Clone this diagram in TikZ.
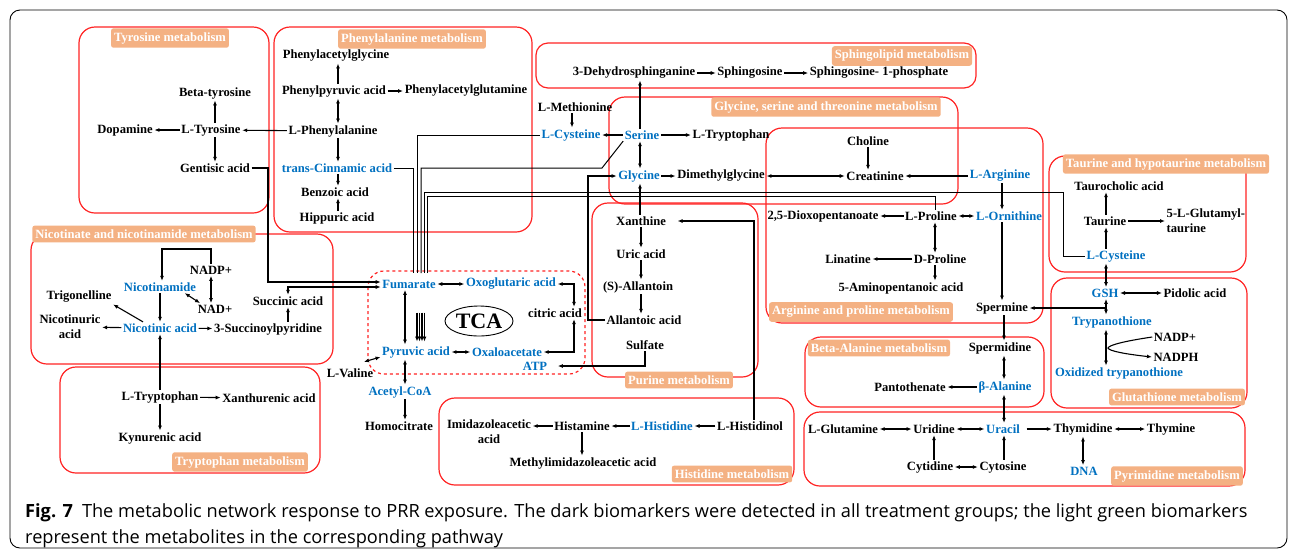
\documentclass[tikz,border=0pt]{standalone}
\usepackage{fontspec}
\setmainfont{Liberation Serif}
\setsansfont{Open Sans}
\usetikzlibrary{arrows.meta,shapes.geometric}
\definecolor{keyblue}{RGB}{0,112,192}
\definecolor{boxred}{RGB}{255,35,35}
\definecolor{tagorange}{RGB}{244,177,131}
\tikzset{
  met/.style={font=\fontsize{12.6}{15}\selectfont\bfseries, inner sep=1.5pt}, % metabolites
  hit/.style={met, text=keyblue}, % blue metabolites
  tag/.style={fill=tagorange, text=white, rounded corners=2.5pt, inner xsep=3pt, inner ysep=4pt,
    font=\fontsize{12.6}{15}\selectfont\bfseries}, % pathway labels
  pbox/.style={draw=boxred, line width=1.2pt, rounded corners=16pt}, % pathway frames
  pf/.style={line width=1.1pt, -{Latex[length=5pt,width=4pt]}}, % arrows
  dpf/.style={line width=1.1pt, {Latex[length=5pt,width=4pt]}-{Latex[length=5pt,width=4pt]}},
  wire/.style={line width=1pt}
}
\begin{document}
\begin{tikzpicture}[x=1pt, y=-1pt]
\useasboundingbox (0,0) rectangle (1295,555);
\draw[line width=0.9pt, rounded corners=10pt] (10,10) rectangle (1287,548);

% pathway frames
\draw[pbox] (79,27) rectangle (269,213);
\draw[pbox] (274,27) rectangle (532,232);
\draw[pbox, rounded corners=12pt] (536,43) rectangle (976,88);
\draw[pbox] (609,97) rectangle (958,204);
\draw[pbox] (766,128) rectangle (1043,323);
\draw[pbox] (1049,156) rectangle (1246,272);
\draw[pbox] (1051,278) rectangle (1247,408);
\draw[pbox] (31,234) rectangle (333,364);
\draw[pbox] (60,367) rectangle (320,473);
\draw[pbox, dashed] (368,271) rectangle (585,374);
\draw[pbox] (592,203) rectangle (758,377);
\draw[pbox] (439,398) rectangle (794,485);
\draw[pbox] (805,337) rectangle (1044,407);
\draw[pbox] (804,412) rectangle (1245,486);

% pathway labels
\node[tag] (tyrtag) at (170,38) {Tyrosine metabolism};
\node[tag] (phetag) at (412,39) {Phenylalanine metabolism};
\node[tag] (sphtag) at (902,56) {Sphingolipid metabolism};
\node[tag] (glytag) at (826,107) {Glycine, serine and threonine metabolism};
\node[tag] (argtag) at (861,312) {Arginine and proline metabolism};
\node[tag] (tautag) at (1166,164) {Taurine and hypotaurine metabolism};
\node[tag] (glutag) at (1177,397) {Glutathione metabolism};
\node[tag] (nictag) at (144,234) {Nicotinate and nicotinamide metabolism};
\node[tag] (trptag) at (240,462) {Tryptophan metabolism};
\node[tag] (purtag) at (679,380) {Purine metabolism};
\node[tag] (histag) at (732,474) {Histidine metabolism};
\node[tag] (baltag) at (879,348) {Beta-Alanine metabolism};
\node[tag] (pyrtag) at (1177,476) {Pyrimidine metabolism};

% Tyrosine
\node[met] (btyr) at (215,93) {Beta-tyrosine};
\node[met] (ltyr) at (211,130) {L-Tyrosine};
\node[met] (dopa) at (125,130) {Dopamine};
\node[met] (gent) at (215,168) {Gentisic acid};

% Phenylalanine
\node[met] (phgly) at (336,56) {Phenylacetylglycine};
\node[met] (phpyr) at (334,91) {Phenylpyruvic acid};
\node[met] (phglu) at (466,91) {Phenylacetylglutamine};
\node[met] (lphe) at (333,131) {L-Phenylalanine};
\node[hit] (tcin) at (337,168) {trans-Cinnamic acid};
\node[met] (benz) at (335,192) {Benzoic acid};
\node[met] (hipp) at (337,218) {Hippuric acid};

% Sphingolipid
\node[met] (dhs) at (634,73) {3-Dehydrosphinganine};
\node[met] (sph) at (750,73) {Sphingosine};
\node[met] (s1p) at (879,73) {Sphingosine- 1-phosphate};

% Glycine, serine and threonine
\node[met] (lmet) at (575,107) {L-Methionine};
\node[hit] (lcys) at (571,135) {L-Cysteine};
\node[hit] (ser) at (642,135) {Serine};
\node[met] (ltrp2) at (731,135) {L-Tryptophan};
\node[hit] (gly) at (639,176) {Glycine};
\node[met] (dmg) at (721,176) {Dimethylglycine};
\node[met] (chol) at (868,141) {Choline};
\node[met] (crea) at (875,176) {Creatinine};
\node[hit] (larg) at (1000,176) {L-Arginine};

% Arginine and proline
\node[met] (dioxo) at (823,216) {2,5-Dioxopentanoate};
\node[met] (lpro) at (931,216) {L-Proline};
\node[hit] (lorn) at (1009,216) {L-Ornithine};
\node[met] (lina) at (848,259) {Linatine};
\node[met] (dpro) at (940,259) {D-Proline};
\node[met] (amino) at (901,288) {5-Aminopentanoic acid};
\node[met] (spm) at (1002,308) {Spermine};

% Taurine and hypotaurine
\node[met] (tchol) at (1119,186) {Taurocholic acid};
\node[met] (taur) at (1105,221) {Taurine};
\node[met, anchor=west, align=left] (glut) at (1165,221) {5-L-Glutamyl-\\taurine};
\node[hit] (lcys2) at (1116,256) {L-Cysteine};

% Glutathione
\node[hit] (gsh) at (1105,293) {GSH};
\node[met] (pido) at (1195,293) {Pidolic acid};
\node[hit] (tryp) at (1112,322) {Trypanothione};
\node[met] (nadp2) at (1175,337) {NADP+};
\node[met] (nadph) at (1176,357) {NADPH};
\node[hit] (oxtr) at (1119,373) {Oxidized trypanothione};

% Beta-Alanine
\node[met] (spd) at (1000,348) {Spermidine};
\node[met] (pant) at (910,387) {Pantothenate};
\node[hit] (bala) at (1005,387) {β-Alanine};

% Pyrimidine
\node[met] (lgln) at (843,429) {L-Glutamine};
\node[met] (urid) at (934,429) {Uridine};
\node[hit] (urac) at (1003,429) {Uracil};
\node[met] (thyd) at (1083,429) {Thymidine};
\node[met] (thym) at (1171,429) {Thymine};
\node[met] (cytd) at (930,467) {Cytidine};
\node[met] (cyto) at (1003,467) {Cytosine};
\node[hit] (dna) at (1084,471) {DNA};

% Nicotinate and nicotinamide
\node[met] (nadp1) at (211,270) {NADP+};
\node[hit] (nam) at (160,287) {Nicotinamide};
\node[met] (nad) at (215,309) {NAD+};
\node[met] (trig) at (79,297) {Trigonelline};
\node[met, align=center] (nicu) at (70,327) {Nicotinuric\\acid};
\node[hit] (nica) at (160,328) {Nicotinic acid};
\node[met] (succp) at (268,329) {3-Succinoylpyridine};
\node[met] (succ) at (288,301) {Succinic acid};

% Tryptophan
\node[met] (ltrp) at (160,397) {L-Tryptophan};
\node[met] (xant) at (269,398) {Xanthurenic acid};
\node[met] (kyn) at (160,438) {Kynurenic acid};

% TCA
\node[hit] (fum) at (409,284) {Fumarate};
\node[hit] (oxo) at (511,284) {Oxoglutaric acid};
\node[draw, ellipse, line width=0.9pt, inner sep=0pt, minimum width=68pt, minimum height=30pt,
  font=\fontsize{22}{24}\selectfont\bfseries] (tca) at (479,321) {TCA};
\node[met] (cit) at (555,313) {citric acid};
\node[hit] (pyr) at (416,352) {Pyruvic acid};
\node[hit] (oaa) at (507,352) {Oxaloacetate};
\node[hit] (atp) at (535,366) {ATP};
\node[met] (lval) at (350,373) {L-Valine};
\node[hit] (acoa) at (400,392) {Acetyl-CoA};
\node[met] (hcit) at (399,426) {Homocitrate};

% Purine
\node[met] (xan) at (641,221) {Xanthine};
\node[met] (uric) at (641,254) {Uric acid};
\node[met] (allt) at (638,287) {(S)-Allantoin};
\node[met] (alla) at (644,320) {Allantoic acid};
\node[met] (sulf) at (645,345) {Sulfate};

% Histidine
\node[met, align=center] (imid) at (489,432) {Imidazoleacetic\\acid};
\node[met] (hista) at (582,426) {Histamine};
\node[hit] (lhis) at (662,426) {L-Histidine};
\node[met] (lhisol) at (750,426) {L-Histidinol};
\node[met] (mimid) at (583,463) {Methylimidazoleacetic acid};

% columns and bends
\coordinate (phx) at (338,0);
\coordinate (cysx) at (572,0);
\coordinate (serx) at (640,0);
\coordinate (prox) at (935,0);
\coordinate (taux) at (1106,0);
\coordinate (balx) at (1004,0);
\coordinate (tcl) at (405,0);
\coordinate (tcr) at (574,0);
\coordinate (pl) at (588,0);
\coordinate (nloop) at (162,249);
\coordinate (gbend) at (268,282);
\coordinate (in1) at (413,273);
\coordinate (in2) at (417,273);
\coordinate (in3) at (421,273);
\coordinate (in4) at (424,273);
\coordinate (in5) at (427,273);
\coordinate (skink) at (602,168);
\coordinate (tk) at (1063,192);
\coordinate (pk) at (935,196);

% Tyrosine arrows
\draw[pf] (ltyr.north -| btyr) -- (btyr);
\draw[pf] (ltyr) -- (dopa);
\draw[pf] (ltyr.south -| gent) -- (gent);
\draw[pf] (lphe) -- (ltyr);

% Phenylalanine arrows
\draw[pf] (phpyr.north -| phx) -- (phgly.south -| phx);
\draw[pf] (phpyr) -- (phglu);
\draw[dpf] (phpyr.south -| phx) -- (lphe.north -| phx);
\draw[pf] (lphe.south -| phx) -- (tcin.north -| phx);
\draw[pf] (tcin.south -| phx) -- (benz.north -| phx);
\draw[pf] (hipp.north -| phx) -- (benz.south -| phx);

% Sphingolipid arrows
\draw[pf] (dhs) -- (sph);
\draw[pf] (sph) -- (s1p);

% Glycine arrows
\draw[pf] (lmet.south -| cysx) -- (lcys.north -| cysx);
\draw[pf] (ser) -- (lcys);
\draw[pf] (ser) -- (ltrp2);
\draw[pf] (ser.north -| serx) -- (dhs.south -| serx);
\draw[dpf] (ser.south -| serx) -- (gly.north -| serx);
\draw[pf] (gly) -- (dmg);
\draw[dpf] (dmg) -- (crea);
\draw[pf] (chol) -- (chol |- crea.north);
\draw[pf] (larg) -- (crea);

% Arginine arrows
\draw[pf] (lpro) -- (dioxo);
\draw[dpf] (lpro) -- (lorn);
\draw[dpf] (lpro.south -| prox) -- (dpro.north -| prox);
\draw[pf] (dpro) -- (lina);
\draw[pf] (dpro.south -| prox) -- (amino.north -| prox);
\draw[pf] (larg.south -| spm) -- (lorn.north -| spm);
\draw[pf] (lorn.south -| spm) -- (spm);

% Taurine arrows
\draw[pf] (taur.north -| taux) -- (tchol.south -| taux);
\draw[pf] (taur) -- (glut);
\draw[pf] (lcys2.north -| taux) -- (taur.south -| taux);
\draw[dpf] (lcys2.south -| taux) -- (gsh.north -| taux);

% Glutathione arrows
\draw[dpf] (gsh) -- (pido);
\draw[dpf] (gsh.south -| taux) -- (tryp.north -| taux);
\draw[pf] (taux |- spm) -- (spm);
\draw[dpf] (tryp.south -| taux) -- (oxtr.north -| taux);
\draw[pf] (nadp2.west) .. controls (1125,341) and (1109,345) .. (1108,348)
  .. controls (1109,351) and (1125,354) .. (nadph.west);

% Beta-Alanine arrows
\draw[pf] (spm.south -| balx) -- (spd.north -| balx);
\draw[dpf] (spd.south -| balx) -- (bala.north -| balx);
\draw[pf] (bala) -- (pant);
\draw[dpf] (bala.south -| balx) -- (urac.north -| balx);

% Pyrimidine arrows
\draw[dpf] (lgln) -- (urid);
\draw[dpf] (urid) -- (urac);
\draw[pf] ([xshift=5pt]urac.east) -- (thyd);
\draw[dpf] (thyd) -- (thym);
\draw[dpf] (thyd) -- (thyd |- dna.north);
\draw[pf] (cytd.north -| urid) -- (urid);
\draw[dpf] (cytd) -- (cyto);
\draw[pf] (cyto.north -| balx) -- (urac.south -| balx);

% Nicotinate arrows
\draw[pf] (nadp1.north) |- (nloop) -- (nloop |- nam.north);
\draw[dpf] (nadp1) -- (nadp1 |- nad.north);
\draw[dpf] ([xshift=-13pt]nam.south east) -- ([xshift=4pt]nad.north west);
\draw[pf] (nam) -- (nam |- nica.north);
\draw[pf] ([xshift=-17pt]nica.north) -- (trig.south east);
\draw[pf] (nica) -- (nicu);
\draw[pf] (nica) -- (succp);
\draw[pf] (succp.north -| succ) -- (succ);
\draw[dpf] (succ.north) |- ([yshift=-3pt]fum.west);
\draw[pf] (gent.east) -| (gbend) -- ([yshift=2pt]fum.west);

% Tryptophan arrows
\draw[pf] (ltrp) -- (nica);
\draw[pf] (ltrp) -- (xant);
\draw[pf] (ltrp) -- (kyn);

% TCA arrows
\draw[dpf] (fum) -- (oxo);
\draw[dpf] (oxo.east) -| (cit.north -| tcr);
\draw[dpf] (cit.south -| tcr) |- (oaa.east);
\draw[dpf] (fum.south -| tcl) -- (pyr.north -| tcl);
\foreach \s in {1,3.5,6,8.5}
  \draw[pf] ([xshift=\s pt,yshift=32pt]pyr.north) -- ([xshift=\s pt,yshift=3pt]pyr.north);
\draw[dpf] (pyr) -- (oaa);
\draw[dpf] ([xshift=-11pt,yshift=5pt]lval.north east) -- ([yshift=-5pt]pyr.west);
\draw[dpf] (pyr.south -| tcl) -- (acoa.north -| tcl);
\draw[pf] (acoa.south -| tcl) -- (hcit.north -| tcl);
\draw[pf] (sulf.south) |- ([xshift=9pt]atp.east);

% feeds into the TCA cycle
\draw[wire] (tcin.east) -| (in1);
\draw[wire] (lcys.west) -| (in2);
\draw[wire] (ser.south west) -- (skink) -| (in3);
\draw[wire] (in4) |- (tk) |- (lcys2.west);
\draw[wire] (in5) |- (pk) -- (pk |- lpro.north);

% Purine arrows
\draw[pf] (xan.north -| serx) -- (gly.south -| serx);
\draw[pf] (xan) -- (xan |- uric.north);
\draw[pf] (uric) -- (uric |- allt.north);
\draw[pf] (allt.south -| uric) -- (alla.north -| uric);
\draw[pf] (alla.west) -| (pl |- gly) -- (gly.west);
\draw[pf] ([xshift=4pt]lhisol.north) |- ([xshift=10pt]xan.east);

% Histidine arrows
\draw[pf] (lhisol) -- (lhis);
\draw[pf] (lhis) -- (hista);
\draw[pf] (hista) -- (imid.east |- hista);
\draw[pf] (hista) -- (hista |- mimid.north);

% caption
\node[anchor=north west, align=left, inner sep=0pt, font=\sffamily\fontsize{18.2}{26}\selectfont] (cap) at (25,503)
  {\textbf{Fig. 7}\enspace The metabolic network response to PRR exposure. The dark biomarkers were detected in all treatment groups; the light green biomarkers\\
   represent the metabolites in the corresponding pathway};
\end{tikzpicture}
\end{document}
